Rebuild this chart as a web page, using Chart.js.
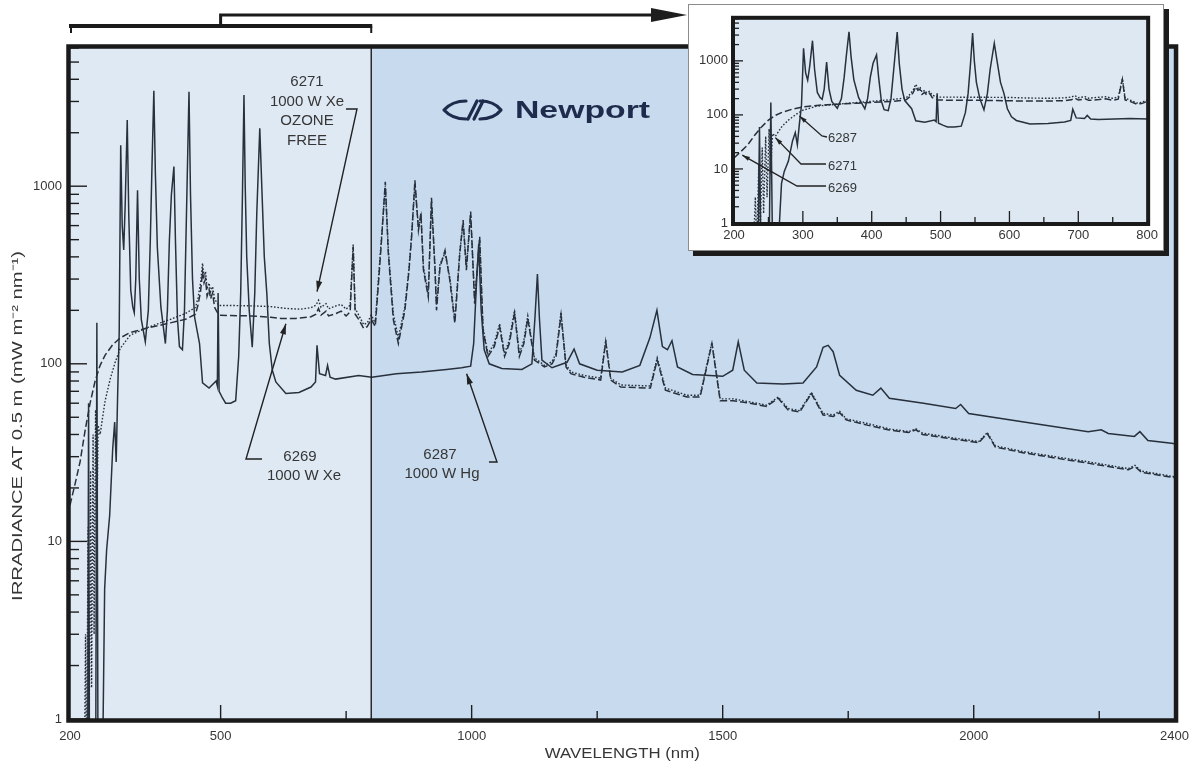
<!DOCTYPE html>
<html>
<head>
<meta charset="utf-8">
<title>Lamp spectral irradiance</title>
<script src="https://cdn.jsdelivr.net/npm/chart.js@4.4.1/dist/chart.umd.min.js"></script>
<style>
  html, body { margin:0; padding:0; background:#ffffff; }
  #wrap { position:relative; width:1199px; height:769px; overflow:hidden; background:#fff; }
  #mainCanvas { position:absolute; left:0; top:0; }
  #insetBox { position:absolute; left:688px; top:4px; width:474px; height:245px; background:#fff; border:1px solid #8c8c8c; box-shadow:5px 5px 0 #1c1c1c; }
  #insetCanvas { position:absolute; left:0; top:0; }
</style>
</head>
<body>
<div id="wrap">
  <canvas id="mainCanvas" width="1199" height="769"></canvas>
  <div id="insetBox"><canvas id="insetCanvas" width="474" height="245"></canvas></div>
</div>
<script>
// ---------------- DATA ----------------
// 6287 1000 W Hg lamp (solid)
const hg6287Nm = [200,235,237,239,251,253.5,256,263,266,269,273,279,285,289,292,295,298,301,304,307,310,314,317,321,325,328,331,334.5,338,342,350,356,360,363,367,370,374,381,390,394,398,402,407,410,414,418,424,428,432,437,440,444,448,458,464,477,491,493.5,495,497,504,510,520,530,536,540,543.5,546.5,549,552,557,563,568,572,578,582,587,592,597,603,610,630,656,680,689,692,697,709,713,718,729,775,801,850,900,950,980,998,1004,1010,1014,1019,1025,1035,1060,1100,1120,1126,1131,1135,1140,1160,1190,1204,1215,1250,1300,1335,1355,1369,1380,1390,1399,1410,1440,1500,1520,1531,1543,1568,1620,1660,1687,1700,1710,1720,1733,1766,1799,1815,1832,1900,1964,1974,1990,2100,2228,2254,2268,2320,2331,2347,2394,2400];
const hg6287Irr = [0.3,0.3,60,0.3,0.3,170,0.3,0.3,1,5.4,9,14,33,47,28,69,150,1700,600,438,800,2360,700,260,209,194,300,950,300,178,133,200,500,1200,3450,1200,450,209,130,200,500,900,1290,500,180,125,120,200,700,3400,900,300,184,130,78,73,80,75,250,70,64,60,60,62,110,250,900,3260,1000,400,200,124,250,700,2120,1000,400,250,130,92,79,68,69,74,79,127,88,86,98,84,82,86,84,88,90,93,95,97,130,300,470,200,120,100,94,93,100,180,320,180,105,95,102,121,100,92,90,98,140,200,125,120,135,96,87,85,92,133,92,78,77,78,96,124,127,117,86,71,66.5,73,64,60,56,59,52.5,47,41.5,42.5,40.5,39,41.5,37,35.7,35.5];

// 6269 1000 W Xe lamp (dashed)
const xe6269Nm = [200,210,220,230,240,250,260,270,285,300,320,350,380,400,430,450,455,460,464,467,470,473,477,480,484,488,492,497,520,560,600,620,650,680,690,695,700,710,715,730,740,750,758,764,768,775,785,792,800,808,815,821,828,834,844,854,867,875,880.5,887,894,899,904,913.6,920,927,930,937,947,956.6,966.5,976.4,983,989.5,998,1006,1016,1022.6,1032.5,1045,1055.7,1065.6,1075,1085.4,1095,1104,1111.8,1125,1145,1160,1168,1178,1188,1197.6,1224,1257,1267,1277,1297,1356,1369.5,1386,1429,1455,1478.5,1495,1521,1554,1587.5,1610.7,1630,1653.5,1676.7,1700,1720,1733,1746,1790,1832,1870,1885,1898,1950,2010,2027,2043,2100,2162,2230,2308,2321,2334,2393,2400];
const xe6269Irr = [16,21,28,42,60,80,98,112,128,140,150,158,165,170,178,190,215,255,330,285,300,240,262,232,250,208,198,188,187,186,183,180,180,184,190,205,188,198,186,192,198,186,196,455,190,178,158,162,178,162,300,520,1060,420,177,130,200,330,520,1080,565,705,337,238,860,337,200,350,435,295,169,418,645,337,720,218,520,155,110,125,161,110,130,193,110,130,180,105,96,100,110,188,96,88,84,81,133,81,74,73,105,71,65,65,130,62,62,60,57.5,64,55,53.6,68,51.5,50.5,53,48.3,45,42.4,41,42.5,40,38,36,40.5,34,31.5,29.5,27.5,25.3,26.4,24.5,23,22.8];

// 6271 1000 W Xe ozone free lamp (dotted)
const xe6271Nm = [200,228,231,233,236,238,241,243,246,248,251,253,256,260,265,270,280,290,300,320,350,380,400,430,450,455,460,464,467,470,473,477,480,484,488,492,497,520,560,600,630,660,680,690,695,700,710,715,730,740,750,758,764,768,775,785,792,800,808,815,821,828,834,844,854,867,875,880.5,887,894,899,904,913.6,920,927,930,937,947,956.6,966.5,976.4,983,989.5,998,1006,1016,1022.6,1032.5,1045,1055.7,1065.6,1075,1085.4,1095,1104,1111.8,1125,1145,1160,1168,1178,1188,1197.6,1224,1257,1267,1277,1297,1356,1369.5,1386,1429,1455,1478.5,1495,1521,1554,1587.5,1610.7,1630,1653.5,1676.7,1700,1720,1733,1746,1790,1832,1870,1885,1898,1950,2010,2027,2043,2100,2162,2230,2308,2321,2334,2393,2400];
const xe6271Irr = [0.3,0.3,3,0.4,12,0.6,25,1.5,40,3,55,8,45,40,50,62,82,102,122,145,158,170,178,192,208,235,285,368,310,330,265,285,255,272,232,222,213,213,212,210,205,203,207,214,228,208,218,204,212,216,203,214,470,205,188,166,170,188,170,320,540,1000,440,190,140,210,340,540,1020,590,680,350,250,820,350,215,365,420,305,178,430,620,350,690,228,500,160,114,130,168,114,136,200,114,136,186,108,98,103,114,195,99,90,86,83,136,83,76,75,108,73,66.5,66.5,132,63.5,63.5,61,58.5,65,56,54.5,69,52.5,51.5,54,49,46,43,41.5,43,40.7,38.6,36.5,41,34.5,32,30,28,25.7,26.8,24.9,23.3,23.1];

// axis ticks
const yTickValues = [1, 10, 100, 1000];
const mainXTickValues = [200, 500, 1000, 1500, 2000, 2400];
const mainXMajorMarks = [500, 1000, 1500, 2000];
const mainXMinorMarks = [750, 1250, 1750, 2250];
const insetXTickValues = [200, 300, 400, 500, 600, 700, 800];
const insetXMajorMarks = [300, 400, 500, 600, 700];
const insetXMinorMarks = [250, 350, 450, 550, 650, 750];
const insetRangeNm = [200, 800];
const xTitle = 'WAVELENGTH (nm)';
const yTitle = 'IRRADIANCE AT 0.5 m (mW m\u207B\u00B2 nm\u207B\u00B9)';

// ---------------- STYLE ----------------
const FONT = '"Liberation Sans", Arial, Helvetica, sans-serif';
const INK = '#27303c';
const TEXT = '#363636';

function toXY(nm, irr) { return nm.map((w, i) => ({ x: w, y: irr[i] })); }
function makeDatasets() {
  return [
    { label: '6287 1000 W Hg', data: toXY(hg6287Nm, hg6287Irr), borderColor: INK, borderWidth: 1.5, pointRadius: 0, tension: 0, fill: false },
    { label: '6269 1000 W Xe', data: toXY(xe6269Nm, xe6269Irr), borderColor: INK, borderWidth: 1.5, borderDash: [7, 3], pointRadius: 0, tension: 0, fill: false },
    { label: '6271 1000 W Xe ozone free', data: toXY(xe6271Nm, xe6271Irr), borderColor: INK, borderWidth: 1.4, borderDash: [1.6, 1.8], pointRadius: 0, tension: 0, fill: false }
  ];
}

function seg(ctx, x0, y0, x1, y1) { ctx.beginPath(); ctx.moveTo(x0, y0); ctx.lineTo(x1, y1); ctx.stroke(); }
function arrowPath(ctx, pts, head) {
  ctx.beginPath(); ctx.moveTo(pts[0][0], pts[0][1]);
  for (let i = 1; i < pts.length; i++) ctx.lineTo(pts[i][0], pts[i][1]);
  ctx.stroke();
  const [x0, y0] = pts[0], [x1, y1] = pts[1];
  const ang = Math.atan2(y0 - y1, x0 - x1);
  ctx.beginPath(); ctx.moveTo(x0, y0);
  ctx.lineTo(x0 - head * Math.cos(ang - 0.28), y0 - head * Math.sin(ang - 0.28));
  ctx.lineTo(x0 - head * Math.cos(ang + 0.28), y0 - head * Math.sin(ang + 0.28));
  ctx.closePath(); ctx.fill();
}
function drawYTicks(ctx, y, left, majorLen, minorLen) {
  yTickValues.forEach(d => {
    for (let k = 1; k <= 9; k++) {
      const v = d * k; if (v > y.max) break;
      const py = y.getPixelForValue(v);
      seg(ctx, left, py, left + (k === 1 ? majorLen : minorLen), py);
    }
  });
}
function stretchedText(ctx, text, cx, cy, targetW, rot) {
  ctx.save();
  const w = ctx.measureText(text).width;
  ctx.translate(cx, cy); if (rot) ctx.rotate(rot); ctx.scale(targetW / w, 1);
  ctx.textAlign = 'center'; ctx.textBaseline = 'middle';
  ctx.fillText(text, 0, 0);
  ctx.restore();
}

// ---------------- MAIN CHART ----------------
const mainDecor = {
  id: 'mainDecor',
  beforeDraw(chart) {
    const { ctx, chartArea: a, scales: { x } } = chart;
    const xd = x.getPixelForValue(insetRangeNm[1]);
    ctx.save();
    ctx.fillStyle = '#dfe9f4'; ctx.fillRect(a.left, a.top, xd - a.left, a.bottom - a.top);
    ctx.fillStyle = '#c7daee'; ctx.fillRect(xd, a.top, a.right - xd, a.bottom - a.top);
    ctx.restore();
  },
  afterDatasetsDraw(chart) {
    const { ctx, chartArea: a, scales: { x, y } } = chart;
    ctx.save();
    ctx.strokeStyle = '#1e1e1e'; ctx.fillStyle = '#1e1e1e';
    // divider at 800 nm
    const xd = x.getPixelForValue(insetRangeNm[1]);
    ctx.lineWidth = 1.4; seg(ctx, xd, a.top, xd, a.bottom);
    // tick marks (inward)
    ctx.lineWidth = 1.4;
    drawYTicks(ctx, y, a.left, 17, 9);
    mainXMajorMarks.forEach(v => { const px = x.getPixelForValue(v); seg(ctx, px, a.bottom, px, a.bottom - 14); });
    mainXMinorMarks.forEach(v => { const px = x.getPixelForValue(v); seg(ctx, px, a.bottom, px, a.bottom - 8); });
    // frame
    ctx.lineWidth = 4.5; ctx.strokeStyle = '#1a1a1a';
    ctx.strokeRect(a.left - 1.5, a.top - 1.5, a.right - a.left + 3, a.bottom - a.top + 3);
    // bracket over 200-800 nm with arrow to inset
    const x200 = x.getPixelForValue(insetRangeNm[0]);
    const x500 = x.getPixelForValue(500);
    ctx.lineWidth = 4; seg(ctx, x200 - 1, 26, xd + 1, 26);
    ctx.lineWidth = 2; seg(ctx, x200 + 1, 26, x200 + 1, 33); seg(ctx, xd, 26, xd, 33);
    ctx.lineWidth = 3; ctx.beginPath(); ctx.moveTo(x500, 26); ctx.lineTo(x500, 15); ctx.lineTo(656, 15); ctx.stroke();
    ctx.beginPath(); ctx.moveTo(651, 8); ctx.lineTo(687, 15); ctx.lineTo(651, 22); ctx.closePath(); ctx.fill();

    // annotations
    ctx.fillStyle = TEXT; ctx.font = '15px ' + FONT; ctx.textAlign = 'center'; ctx.textBaseline = 'middle';
    ['6271', '1000 W Xe', 'OZONE', 'FREE'].forEach((t, i) => ctx.fillText(t, 307, 82 + i * 19.5));
    ctx.fillText('6269', 300, 457); ctx.fillText('1000 W Xe', 304, 476);
    ctx.fillText('6287', 440, 455); ctx.fillText('1000 W Hg', 442, 474);
    ctx.strokeStyle = '#222'; ctx.fillStyle = '#222'; ctx.lineWidth = 1.4;
    arrowPath(ctx, [[x.getPixelForValue(692), y.getPixelForValue(255)], [357, 109], [346, 109]], 11);
    arrowPath(ctx, [[x.getPixelForValue(630), y.getPixelForValue(168)], [246, 459], [262, 459]], 11);
    arrowPath(ctx, [[x.getPixelForValue(990), y.getPixelForValue(88)], [497, 462], [489, 462]], 11);

    // axis titles
    ctx.fillStyle = TEXT; ctx.font = '15px ' + FONT;
    stretchedText(ctx, xTitle, (a.left + a.right) / 2, 754, 155, 0);
    stretchedText(ctx, yTitle, 18, 426, 350, -Math.PI / 2);

    // Newport logo
    ctx.strokeStyle = '#1f2b4c'; ctx.fillStyle = '#1f2b4c'; ctx.lineWidth = 3.2; ctx.lineCap = 'round'; ctx.lineJoin = 'round';
    ctx.beginPath(); ctx.moveTo(466, 101); ctx.quadraticCurveTo(452, 101, 444, 110); ctx.quadraticCurveTo(452, 119, 466, 119); ctx.stroke();
    ctx.beginPath(); ctx.moveTo(468, 119); ctx.lineTo(477, 101); ctx.stroke();
    ctx.beginPath(); ctx.moveTo(474, 119); ctx.lineTo(483, 101); ctx.stroke();
    ctx.beginPath(); ctx.moveTo(480, 101); ctx.quadraticCurveTo(494, 101, 501, 110); ctx.quadraticCurveTo(494, 119, 480, 119); ctx.stroke();
    ctx.font = 'bold 23px ' + FONT; ctx.textAlign = 'left'; ctx.textBaseline = 'alphabetic';
    const w = ctx.measureText('Newport').width;
    ctx.translate(515, 118); ctx.scale(135 / w, 1); ctx.fillText('Newport', 0, 0);
    ctx.restore();
  }
};

new Chart(document.getElementById('mainCanvas'), {
  type: 'line',
  data: { datasets: makeDatasets() },
  options: {
    responsive: false, animation: false, devicePixelRatio: 1, events: [],
    parsing: false, normalized: true,
    layout: { padding: { top: 48, right: 19, bottom: 0, left: 0 } },
    plugins: { legend: { display: false }, tooltip: { enabled: false } },
    scales: {
      x: {
        type: 'linear', min: 200, max: 2400,
        afterBuildTicks: s => { s.ticks = mainXTickValues.map(v => ({ value: v })); },
        afterFit: s => { s.height = 50; },
        grid: { display: false, drawTicks: false }, border: { display: false },
        ticks: { padding: 10, color: TEXT, font: { family: FONT, size: 13 }, maxRotation: 0, autoSkip: false, callback: v => String(v) }
      },
      y: {
        type: 'logarithmic', min: 1, max: 6000,
        afterBuildTicks: s => { s.ticks = yTickValues.map(v => ({ value: v })); },
        afterFit: s => { s.width = 70; },
        grid: { display: false, drawTicks: false }, border: { display: false },
        ticks: { padding: 8, color: TEXT, font: { family: FONT, size: 13 }, autoSkip: false, callback: v => String(v) }
      }
    }
  },
  plugins: [mainDecor]
});

// ---------------- INSET CHART ----------------
const insetDecor = {
  id: 'insetDecor',
  beforeDraw(chart) {
    const { ctx, chartArea: a } = chart;
    ctx.save(); ctx.fillStyle = '#dde8f3'; ctx.fillRect(a.left, a.top, a.right - a.left, a.bottom - a.top); ctx.restore();
  },
  afterDatasetsDraw(chart) {
    const { ctx, chartArea: a, scales: { x, y } } = chart;
    ctx.save();
    ctx.strokeStyle = '#1e1e1e'; ctx.fillStyle = '#1e1e1e'; ctx.lineWidth = 1.3;
    drawYTicks(ctx, y, a.left, 9, 5);
    insetXMajorMarks.forEach(v => { const px = x.getPixelForValue(v); seg(ctx, px, a.bottom, px, a.bottom - 12); });
    insetXMinorMarks.forEach(v => { const px = x.getPixelForValue(v); seg(ctx, px, a.bottom, px, a.bottom - 6); });
    ctx.lineWidth = 4; ctx.strokeStyle = '#1a1a1a';
    ctx.strokeRect(a.left - 1, a.top - 1, a.right - a.left + 2, a.bottom - a.top + 2);
    // labels
    ctx.fillStyle = TEXT; ctx.font = '13px ' + FONT; ctx.textAlign = 'left'; ctx.textBaseline = 'middle';
    ctx.fillText('6287', 139, 133); ctx.fillText('6271', 139, 161); ctx.fillText('6269', 139, 183);
    ctx.strokeStyle = '#222'; ctx.fillStyle = '#222'; ctx.lineWidth = 1.3;
    arrowPath(ctx, [[x.getPixelForValue(295), y.getPixelForValue(95)], [133, 131], [138, 132]], 8);
    arrowPath(ctx, [[x.getPixelForValue(260), y.getPixelForValue(38)], [112, 159], [137, 159]], 8);
    arrowPath(ctx, [[x.getPixelForValue(212), y.getPixelForValue(18)], [108, 181], [137, 181]], 8);
    ctx.restore();
  }
};

new Chart(document.getElementById('insetCanvas'), {
  type: 'line',
  data: { datasets: makeDatasets() },
  options: {
    responsive: false, animation: false, devicePixelRatio: 1, events: [],
    parsing: false, normalized: true,
    layout: { padding: { top: 8, right: 8, bottom: 0, left: 0 } },
    plugins: { legend: { display: false }, tooltip: { enabled: false } },
    scales: {
      x: {
        type: 'linear', min: insetRangeNm[0], max: insetRangeNm[1],
        afterBuildTicks: s => { s.ticks = insetXTickValues.map(v => ({ value: v })); },
        afterFit: s => { s.height = 27; },
        grid: { display: false, drawTicks: false }, border: { display: false },
        ticks: { padding: 5, color: TEXT, font: { family: FONT, size: 13 }, maxRotation: 0, autoSkip: false, callback: v => String(v) }
      },
      y: {
        type: 'logarithmic', min: 1, max: 6000,
        afterBuildTicks: s => { s.ticks = yTickValues.map(v => ({ value: v })); },
        afterFit: s => { s.width = 45; },
        grid: { display: false, drawTicks: false }, border: { display: false },
        ticks: { padding: 6, color: TEXT, font: { family: FONT, size: 13 }, autoSkip: false, callback: v => String(v) }
      }
    }
  },
  plugins: [insetDecor]
});
</script>
</body>
</html>
